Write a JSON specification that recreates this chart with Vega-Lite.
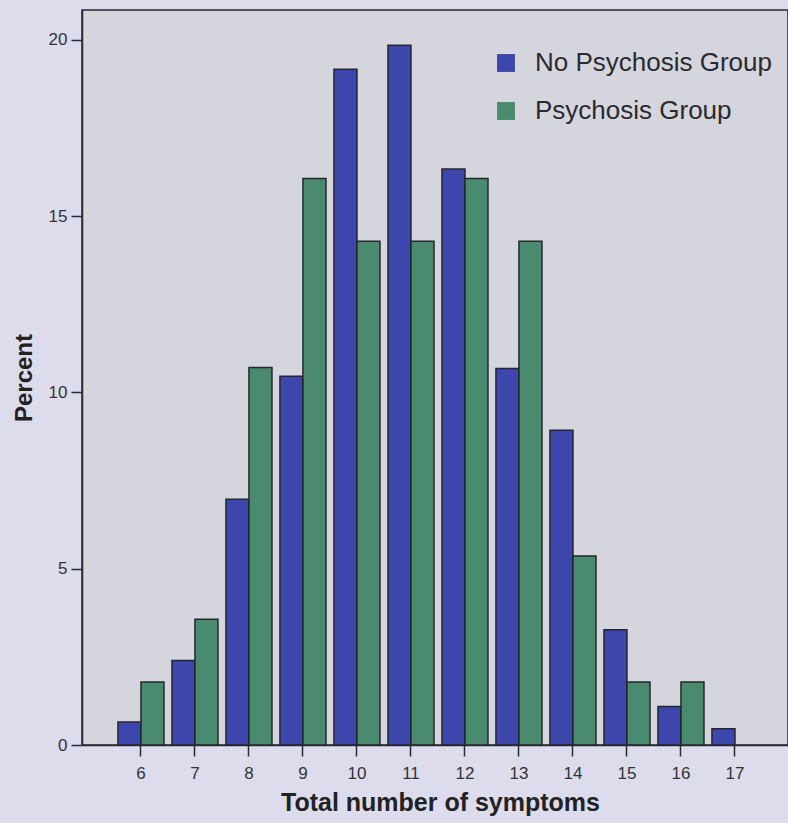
{
  "$schema": "https://vega.github.io/schema/vega-lite/v6.json",
  "autosize": {"type": "none"},
  "padding": {"left": 82, "top": 10, "right": 0, "bottom": 78},
  "width": 706,
  "height": 735,
  "background": "#dcdcec",
  "config": {
    "font": "Liberation Sans",
    "view": {"fill": "#d5d5de", "stroke": "#2a2a35", "strokeWidth": 1.5},
    "axis": {"domainColor": "#2a2a35", "tickColor": "#2a2a35", "labelColor": "#333333", "titleColor": "#222222", "grid": false}
  },
  "data": {
    "values": [
      {"symptoms": 6, "group": "No Psychosis Group", "percent": 0.65},
      {"symptoms": 7, "group": "No Psychosis Group", "percent": 2.4},
      {"symptoms": 8, "group": "No Psychosis Group", "percent": 6.97},
      {"symptoms": 9, "group": "No Psychosis Group", "percent": 10.46},
      {"symptoms": 10, "group": "No Psychosis Group", "percent": 19.17},
      {"symptoms": 11, "group": "No Psychosis Group", "percent": 19.85},
      {"symptoms": 12, "group": "No Psychosis Group", "percent": 16.34},
      {"symptoms": 13, "group": "No Psychosis Group", "percent": 10.68},
      {"symptoms": 14, "group": "No Psychosis Group", "percent": 8.93},
      {"symptoms": 15, "group": "No Psychosis Group", "percent": 3.27},
      {"symptoms": 16, "group": "No Psychosis Group", "percent": 1.09},
      {"symptoms": 17, "group": "No Psychosis Group", "percent": 0.46},
      {"symptoms": 6, "group": "Psychosis Group", "percent": 1.79},
      {"symptoms": 7, "group": "Psychosis Group", "percent": 3.57},
      {"symptoms": 8, "group": "Psychosis Group", "percent": 10.71},
      {"symptoms": 9, "group": "Psychosis Group", "percent": 16.07},
      {"symptoms": 10, "group": "Psychosis Group", "percent": 14.29},
      {"symptoms": 11, "group": "Psychosis Group", "percent": 14.29},
      {"symptoms": 12, "group": "Psychosis Group", "percent": 16.07},
      {"symptoms": 13, "group": "Psychosis Group", "percent": 14.29},
      {"symptoms": 14, "group": "Psychosis Group", "percent": 5.36},
      {"symptoms": 15, "group": "Psychosis Group", "percent": 1.79},
      {"symptoms": 16, "group": "Psychosis Group", "percent": 1.79}
    ]
  },
  "mark": {"type": "bar", "stroke": "#26262e", "strokeWidth": 1.5},
  "encoding": {
    "x": {
      "field": "symptoms",
      "type": "ordinal",
      "scale": {"type": "band", "domain": [6, 7, 8, 9, 10, 11, 12, 13, 14, 15, 16, 17], "paddingInner": 0.148, "paddingOuter": 0.611, "align": 0.545},
      "axis": {"title": "Total number of symptoms", "labelAngle": 0, "tickSize": 11, "labelPadding": 9, "labelFontSize": 17, "titleFontSize": 25, "titleFontWeight": "bold", "titlePadding": 9, "domainWidth": 1.5, "tickWidth": 1.5, "titleX": 358}
    },
    "xOffset": {
      "field": "group",
      "type": "nominal",
      "sort": ["No Psychosis Group", "Psychosis Group"],
      "scale": {"paddingInner": 0, "paddingOuter": 0}
    },
    "y": {
      "field": "percent",
      "type": "quantitative",
      "scale": {"domain": [0, 20.85], "nice": false},
      "axis": {"title": "Percent", "values": [0, 5, 10, 15, 20], "tickSize": 11, "labelPadding": 4, "labelFontSize": 17, "titleFontSize": 24, "titleFontWeight": "bold", "titlePadding": 12, "domainWidth": 1.5, "tickWidth": 1.5}
    },
    "color": {
      "field": "group",
      "type": "nominal",
      "scale": {"domain": ["No Psychosis Group", "Psychosis Group"], "range": ["#3c46ad", "#4a8a6e"]},
      "legend": {
        "title": null,
        "orient": "none",
        "legendX": 411,
        "legendY": 40,
        "symbolType": "square",
        "symbolSize": 320,
        "symbolStrokeWidth": 0,
        "labelFontSize": 26,
        "labelColor": "#2a2a30",
        "labelOffset": 16,
        "rowPadding": 22,
        "labelLimit": 400
      }
    }
  }
}
